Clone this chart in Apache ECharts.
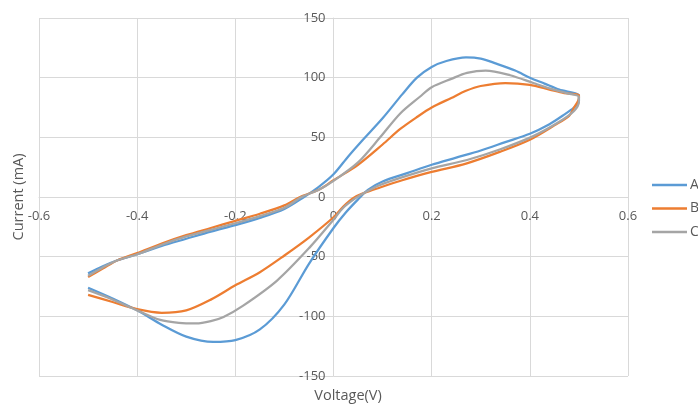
<!DOCTYPE html>
<html>
<head>
<meta charset="utf-8">
<script src="https://cdn.jsdelivr.net/npm/echarts@6/dist/echarts.min.js"></script>
<style>
html,body{margin:0;padding:0;background:#fff;}
#chart{width:698px;height:406px;}
</style>
</head>
<body>
<div id="chart"></div>
<script>
var seriesNames = ['A', 'B', 'C'];
var xTicks = [-0.6, -0.4, -0.2, 0, 0.2, 0.4, 0.6];
var yTicks = [-150, -100, -50, 0, 50, 100, 150];

// [voltage (V), current (mA)] — forward sweep then reverse sweep
var seriesA = [
  [-0.5,-64],[-0.47,-58],[-0.44,-53],[-0.4,-48],[-0.35,-41],[-0.3,-35],[-0.25,-29],[-0.2,-23.5],
  [-0.15,-17.5],[-0.1,-10],[-0.06,0],[-0.03,8.5],[0,19],[0.03,34],[0.06,48],[0.1,66],[0.14,86],
  [0.17,100],[0.2,109],[0.23,114],[0.27,117],[0.3,116],[0.33,112],[0.37,106],[0.4,100],
  [0.43,95],[0.46,90],[0.5,85],
  [0.5,80],[0.49,75],[0.47,69],[0.44,61],[0.4,53],[0.35,46],[0.3,39],[0.25,33],[0.2,27],
  [0.15,20],[0.1,13],[0.07,6],[0.05,-2],[0.025,-13],[0,-26],[-0.05,-56],[-0.1,-90],[-0.15,-111],
  [-0.2,-120],[-0.245,-121.5],[-0.3,-117],[-0.35,-107],[-0.4,-95],[-0.45,-85],[-0.5,-76]
];
var seriesB = [
  [-0.5,-67],[-0.47,-60],[-0.44,-53],[-0.4,-47],[-0.35,-39],[-0.3,-32],[-0.25,-26],[-0.2,-20],
  [-0.15,-14],[-0.1,-7],[-0.068,0],[-0.03,6],[0,14],[0.05,27],[0.1,44],[0.136,57],[0.17,67],
  [0.2,75],[0.24,83],[0.27,89],[0.3,93],[0.35,95.5],[0.4,94],[0.44,90],[0.47,87],[0.5,85.5],
  [0.5,83],[0.49,75],[0.48,68],[0.45,60],[0.4,48],[0.34,38],[0.27,28],[0.2,21],[0.14,14],
  [0.095,8],[0.06,3],[0.04,-1],[0.02,-8],[0,-17],[-0.05,-34],[-0.1,-49],[-0.15,-63],[-0.2,-74],
  [-0.25,-86],[-0.3,-95],[-0.35,-97],[-0.4,-94],[-0.45,-88],[-0.5,-82]
];
var seriesC = [
  [-0.5,-66],[-0.47,-59],[-0.44,-53],[-0.4,-48],[-0.35,-40],[-0.3,-33],[-0.25,-27.5],[-0.2,-22],
  [-0.15,-16],[-0.1,-9],[-0.065,0],[-0.03,6],[0,13.5],[0.05,29],[0.095,50],[0.136,70],[0.176,84],
  [0.2,92],[0.24,99],[0.272,104],[0.31,106],[0.36,102],[0.407,95.5],[0.44,91],[0.475,87],[0.5,84],
  [0.5,80],[0.49,72],[0.46,63],[0.407,51],[0.34,40],[0.272,31],[0.2,24],[0.136,16],[0.095,10],
  [0.065,4],[0.045,-1],[0.02,-9],[0,-19],[-0.048,-42],[-0.115,-70],[-0.184,-91],[-0.224,-100.5],[-0.25,-104],
  [-0.28,-106],[-0.315,-105.5],[-0.353,-103],[-0.4,-95],[-0.455,-85],[-0.5,-78]
];

var colors = ['#5B9BD5', '#ED7D31', '#A5A5A5'];
var allData = [seriesA, seriesB, seriesC];
var font = '"Open Sans", "Noto Sans", sans-serif';
var textColor = '#595959';
var gridColor = '#D9D9D9';

var gridLeft = 39, gridRight = 70, gridTop = 18, gridBottom = 30;
var W = 698, H = 406;

var chart = echarts.init(document.getElementById('chart'), null, {renderer: 'canvas'});
// Excel-style: each axis sits where the other axis is zero.
var plotW = W - gridLeft - gridRight, plotH = H - gridTop - gridBottom;
var xMin = xTicks[0], xMax = xTicks[xTicks.length - 1];
var yMin = yTicks[0], yMax = yTicks[yTicks.length - 1];
var yAxisOffset = -plotW * (0 - xMin) / (xMax - xMin);
var xAxisOffset = -plotH * (0 - yMin) / (yMax - yMin);

chart.setOption({
  animation: false,
  backgroundColor: '#ffffff',
  color: colors,
  grid: {left: gridLeft, right: gridRight, top: gridTop, bottom: gridBottom, containLabel: false},
  legend: {
    orient: 'vertical',
    left: 652,
    top: 178,
    padding: 0,
    icon: 'rect',
    itemWidth: 35,
    itemHeight: 2.5,
    itemGap: 9.5,
    data: seriesNames,
    textStyle: {color: textColor, fontFamily: font, fontSize: 14, lineHeight: 14, padding: [0,0,0,-2]}
  },
  xAxis: {
    type: 'value',
    min: xMin,
    max: xMax,
    interval: 0.2,
    offset: xAxisOffset,
    axisLine: {onZero: false, lineStyle: {color: gridColor, width: 1}},
    axisTick: {show: false},
    axisLabel: {color: textColor, fontFamily: font, fontSize: 13, margin: 13,
      formatter: function (v) { return String(Math.round(v * 10) / 10); }},
    splitLine: {show: true, lineStyle: {color: gridColor, width: 1}}
  },
  yAxis: {
    type: 'value',
    min: yMin,
    max: yMax,
    interval: 50,
    offset: yAxisOffset,
    axisLine: {onZero: false, lineStyle: {color: gridColor, width: 1}},
    axisTick: {show: false},
    axisLabel: {color: textColor, fontFamily: font, fontSize: 13, margin: 8},
    splitLine: {show: true, lineStyle: {color: gridColor, width: 1}}
  },
  graphic: [
    {type: 'text', x: 348, y: 396,
      style: {text: 'Voltage(V)', fill: textColor, font: '14.5px ' + font,
        textAlign: 'center', textVerticalAlign: 'middle'}},
    {type: 'text', x: 19, y: 197, rotation: Math.PI / 2,
      style: {text: 'Current (mA)', fill: textColor, font: '14.5px ' + font,
        textAlign: 'center', textVerticalAlign: 'middle'}}
  ],
  series: seriesNames.map(function (name, i) {
    return {
      name: name,
      type: 'line',
      data: allData[i],
      symbol: 'none',
      smooth: 0.3,
      lineStyle: {width: 2.25, color: colors[i]},
      itemStyle: {color: colors[i]}
    };
  })
});
</script>
</body>
</html>
